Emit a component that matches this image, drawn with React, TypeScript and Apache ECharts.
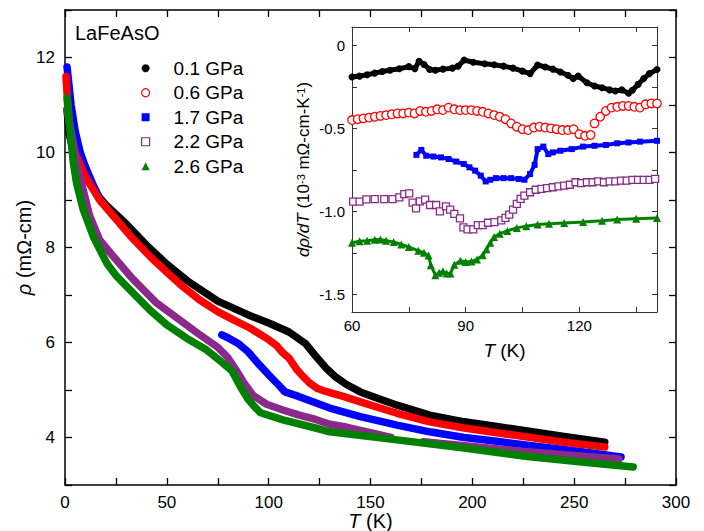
import React, { useEffect, useRef } from "react";
import * as echarts from "echarts";

// ---------- main panel: resistivity rho (mOhm-cm) vs T (K) ----------
const seriesNames = ["0.1 GPa", "0.6 GPa", "1.7 GPa", "2.2 GPa", "2.6 GPa"];
const seriesColors = ["#000000", "#ff0000", "#0000ff", "#8a2a8a", "#008000"];

const T01 = [1, 2, 4, 7, 10, 15, 20, 30, 40, 50, 60, 75, 90, 100, 110, 118, 123, 128, 133, 138, 145, 150, 163, 179, 196, 212, 227, 245, 265];
const R01 = [10.9, 10.4, 10.05, 9.75, 9.5, 9.15, 8.9, 8.5, 8.05, 7.65, 7.3, 6.87, 6.58, 6.41, 6.22, 5.98, 5.72, 5.47, 5.27, 5.12, 4.96, 4.88, 4.68, 4.47, 4.33, 4.23, 4.14, 4.02, 3.9];

const T06 = [0.5, 1, 2.5, 5, 10, 17, 25, 33, 42, 50, 58, 66, 75, 83, 91, 100, 104, 107, 110, 114, 117, 120, 124, 128, 137, 145, 163, 179, 196, 212, 227, 245, 265];
const R06 = [11.6, 11.25, 10.5, 10.0, 9.5, 9.0, 8.6, 8.2, 7.8, 7.48, 7.17, 6.9, 6.65, 6.47, 6.3, 6.06, 5.93, 5.78, 5.67, 5.42, 5.28, 5.15, 5.03, 4.97, 4.86, 4.75, 4.51, 4.33, 4.2, 4.1, 4.01, 3.9, 3.8];

const T17 = [1, 1.5, 2, 3, 5, 7.5, 10, 14, 18, 40, 77, 80, 85, 90, 95, 100, 105, 108, 115, 125, 130, 145, 163, 179, 196, 212, 227, 250, 273];
const R17 = [11.8, 11.6, 11.4, 11.0, 10.45, 10.0, 9.7, 9.3, 8.95, null, 6.16, 6.1, 5.98, 5.8, 5.55, 5.32, 5.1, 4.96, 4.86, 4.7, 4.62, 4.44, 4.26, 4.12, 4.0, 3.92, 3.84, 3.72, 3.59];

const T22 = [1, 3, 5, 7, 9, 12, 17, 22, 28, 33, 45, 58, 66, 75, 80, 84, 88, 92.5, 99, 107, 115, 123, 130, 138, 150, 160, 168, 176, 200, 227, 250, 272];
const R22 = [10.9, 10.44, 9.95, 9.55, 9.2, 8.68, 8.16, 7.9, 7.6, 7.35, 6.83, 6.42, 6.17, 5.9, 5.68, 5.42, 5.14, 4.88, 4.7, 4.58, 4.47, 4.38, 4.28, 4.22, 4.1, 4.0, null, 3.91, 3.81, 3.7, 3.62, 3.55];

const T26 = [1, 1.5, 2, 3.3, 4.1, 5.7, 9, 14, 20.5, 25.4, 33.5, 41.7, 50, 59.7, 69.6, 77.7, 82, 86, 90, 93, 96, 107, 123, 130, 163, 196, 227, 255, 279];
const R26 = [11.15, 10.9, 10.65, 10.12, 9.78, 9.35, 8.79, 8.22, 7.67, 7.39, 7.04, 6.68, 6.37, 6.09, 5.84, 5.56, 5.4, 5.08, 4.8, 4.65, 4.52, 4.37, 4.2, 4.12, 3.95, 3.78, 3.6, 3.48, 3.38];

const mainT = [T01, T06, T17, T22, T26];
const mainR = [R01, R06, R17, R22, R26];

const mainXTicks = [0, 25, 50, 75, 100, 125, 150, 175, 200, 225, 250, 275, 300];
const mainXLabels = [0, 50, 100, 150, 200, 250, 300];
const mainYTicks = [3, 4, 5, 6, 7, 8, 9, 10, 11, 12, 13];
const mainYLabels = [4, 6, 8, 10, 12];

// ---------- inset: d rho / dT (1e-3 mOhm-cm/K) vs T (K) ----------
const iT01 = [60, 62, 64, 66, 68, 70, 72.5, 75, 76.6, 77.7, 79, 80.5, 82, 84, 86.5, 88, 89.6, 92, 95, 97.5, 100, 102.5, 105, 107, 109, 111, 113, 115, 117, 118.4, 119.7, 122, 124, 126, 128, 129.5, 131.2, 133, 134, 135.5, 137, 138.5, 140.5];
const iD01 = [-0.19, -0.185, -0.177, -0.167, -0.157, -0.15, -0.141, -0.128, -0.14, -0.095, -0.115, -0.145, -0.15, -0.143, -0.137, -0.125, -0.088, -0.102, -0.11, -0.117, -0.125, -0.137, -0.155, -0.17, -0.118, -0.13, -0.143, -0.16, -0.18, -0.2, -0.185, -0.225, -0.245, -0.255, -0.268, -0.275, -0.268, -0.288, -0.27, -0.235, -0.2, -0.17, -0.145];

const iT06 = [60, 61.5, 63, 64.5, 66, 67.5, 69, 70.5, 72, 73.5, 75, 76.5, 78, 79.5, 81, 82.5, 84, 85.5, 87, 88.5, 90, 91.5, 93, 94.5, 96, 97.5, 99, 100.5, 102, 103.5, 105, 106.5, 108, 109.5, 111, 112.5, 114, 115.5, 117, 118.5, 120, 121.5, 123, 124, 125.5, 127, 128.5, 130, 131.5, 133, 134.5, 136, 137.5, 139, 140.5];
const iD06 = [-0.45, -0.445, -0.44, -0.435, -0.43, -0.425, -0.42, -0.415, -0.41, -0.41, -0.405, -0.41, -0.395, -0.4, -0.395, -0.385, -0.39, -0.375, -0.385, -0.39, -0.39, -0.39, -0.395, -0.4, -0.41, -0.42, -0.43, -0.445, -0.47, -0.49, -0.505, -0.51, -0.495, -0.49, -0.495, -0.5, -0.505, -0.51, -0.51, -0.505, -0.535, -0.545, -0.54, -0.47, -0.43, -0.395, -0.375, -0.37, -0.365, -0.365, -0.37, -0.375, -0.355, -0.35, -0.35];

const iT17 = [77, 78.3, 79.6, 81.5, 83.5, 85.5, 87.5, 89.5, 91, 92.5, 94, 95.3, 96.5, 98, 100, 102, 104, 105.5, 107, 108.2, 109, 110.5, 111.8, 113, 115, 118, 121, 124, 127, 130, 133, 136, 140.5];
const iD17 = [-0.66, -0.63, -0.665, -0.67, -0.675, -0.685, -0.7, -0.715, -0.735, -0.755, -0.785, -0.82, -0.81, -0.8, -0.8, -0.8, -0.805, -0.81, -0.775, -0.72, -0.625, -0.61, -0.655, -0.645, -0.635, -0.625, -0.61, -0.605, -0.6, -0.59, -0.585, -0.58, -0.575];

const iT22 = [60.3, 62, 63.8, 66, 68.5, 70.7, 72.5, 73.8, 75.1, 76, 76.9, 77.9, 79.3, 80.6, 82.2, 83.2, 84.8, 85.9, 87, 88.5, 89.4, 90.5, 92, 93.2, 94.5, 95.9, 97.6, 99.4, 100.5, 101.5, 102.5, 103.5, 104.5, 105.5, 107, 108.5, 110, 111.5, 113, 114.5, 116, 117.5, 119, 120.5, 122, 123.5, 125, 126.5, 128, 129.5, 131, 132.5, 134, 135.5, 137, 138.5, 140];
const iD22 = [-0.942, -0.942, -0.928, -0.926, -0.926, -0.926, -0.916, -0.896, -0.892, -0.948, -0.982, -0.94, -0.93, -0.962, -0.962, -1.0, -0.97, -0.99, -1.016, -1.043, -1.097, -1.109, -1.109, -1.083, -1.083, -1.069, -1.065, -1.055, -1.04, -1.02, -0.99, -0.955, -0.925, -0.905, -0.885, -0.87, -0.865, -0.86, -0.855, -0.85, -0.845, -0.84, -0.825, -0.83, -0.825, -0.825, -0.82, -0.825, -0.82, -0.82, -0.815, -0.815, -0.81, -0.81, -0.81, -0.81, -0.805];

const iT26 = [60, 62, 64, 66, 67.5, 69, 71, 73, 75, 77.5, 79, 80.2, 80.8, 82, 83, 84, 85, 86, 87, 88.6, 90, 91.5, 93, 94.5, 95.5, 96.5, 97.5, 99, 101, 103.5, 106, 109, 112, 116, 121, 126, 130, 135, 140.5];
const iD26 = [-1.19, -1.18, -1.178, -1.172, -1.17, -1.178, -1.185, -1.2, -1.215, -1.238, -1.25, -1.266, -1.325, -1.385, -1.37, -1.362, -1.375, -1.375, -1.322, -1.298, -1.305, -1.302, -1.29, -1.265, -1.228, -1.19, -1.155, -1.135, -1.118, -1.1, -1.09, -1.08, -1.075, -1.07, -1.064, -1.057, -1.05, -1.045, -1.04];

const insetT = [iT01, iT06, iT17, iT22, iT26];
const insetD = [iD01, iD06, iD17, iD22, iD26];

const insetXTicks = [60, 75, 90, 105, 120, 135];
const insetXLabels = [60, 90, 120];
const insetYTicks = [-1.5, -1.25, -1.0, -0.75, -0.5, -0.25, 0];
const insetYLabels = [-1.5, -1.0, -0.5, 0];

const FONT = "'Liberation Sans', Arial, Helvetica, sans-serif";

const zip = (xs: number[], ys: (number | null)[]) =>
  xs.map((x, i) => (ys[i] === null ? [x, "-"] : [x, ys[i]]));

export default function App() {
  const ref = useRef<HTMLDivElement>(null);

  useEffect(() => {
    if (!ref.current) return;
    const chart = echarts.init(ref.current, undefined, { renderer: "svg" });

    const mainLine = { show: true, onZero: false, lineStyle: { color: "#000", width: 1.5 } };
    const insetLine = { show: true, onZero: false, lineStyle: { color: "#333", width: 1 } };

    const xMainBase = {
      type: "value", gridIndex: 0, min: 0, max: 300,
      axisLine: mainLine, splitLine: { show: false },
      axisTick: { show: true, inside: true, length: 7, customValues: mainXTicks, lineStyle: { color: "#000", width: 1.3 } },
    };
    const yMainBase = {
      type: "value", gridIndex: 0, min: 3, max: 13,
      axisLine: mainLine, splitLine: { show: false },
      axisTick: { show: true, inside: true, length: 7, customValues: mainYTicks, lineStyle: { color: "#000", width: 1.3 } },
    };
    const xInBase = {
      type: "value", gridIndex: 1, min: 60, max: 140.5,
      axisLine: insetLine, splitLine: { show: false },
      axisTick: { show: true, inside: true, length: 5, customValues: insetXTicks, lineStyle: { color: "#333", width: 1 } },
    };
    const yInBase = {
      type: "value", gridIndex: 1, min: -1.607, max: 0.111,
      axisLine: insetLine, splitLine: { show: false },
      axisTick: { show: true, inside: true, length: 5, customValues: insetYTicks, lineStyle: { color: "#333", width: 1 } },
    };

    const mainSeries = seriesNames.map((name, k) => ({
      name,
      type: "line",
      xAxisIndex: 0,
      yAxisIndex: 0,
      data: zip(mainT[k], mainR[k]),
      showSymbol: false,
      connectNulls: false,
      lineStyle: { color: seriesColors[k], width: 7.5, cap: "round", join: "round" },
      itemStyle: { color: seriesColors[k] },
      z: [2, 4, 3, 5, 6][k],
    }));

    const insetSymbols = ["circle", "circle", "rect", "rect", "triangle"];
    const insetSizes = [7, 8.5, 6, 7, 8];
    const insetOpen = [false, true, false, true, false];
    const insetLineW = [5, 0, 4, 0, 3];

    const insetSeries = seriesNames.map((name, k) => ({
      name,
      type: "line",
      xAxisIndex: 2,
      yAxisIndex: 2,
      data: zip(insetT[k], insetD[k]),
      symbol: insetSymbols[k],
      symbolSize: insetSizes[k],
      showSymbol: true,
      lineStyle: { color: seriesColors[k], width: insetLineW[k] },
      itemStyle: insetOpen[k]
        ? { color: "#ffffff", borderColor: seriesColors[k], borderWidth: 1.3 }
        : { color: seriesColors[k] },
      clip: true,
      z: 10,
    }));

    const legendIcons = ["circle", "circle", "rect", "rect", "triangle"];

    chart.setOption({
      animation: false,
      backgroundColor: "#ffffff",
      textStyle: { fontFamily: FONT, color: "#000" },
      title: {
        text: "LaFeAsO",
        left: 75,
        top: 23,
        padding: 0,
        textStyle: { fontFamily: FONT, fontSize: 20, fontWeight: "normal", color: "#000" },
      },
      legend: {
        orient: "vertical",
        left: 141,
        top: 56,
        padding: 0,
        itemGap: 0,
        itemWidth: 8,
        itemHeight: 8,
        selectedMode: false,
        textStyle: { fontFamily: FONT, fontSize: 19, color: "#000", lineHeight: 24.5, padding: [0, 0, 0, 19] },
        data: seriesNames.map((name, k) => ({
          name,
          icon: legendIcons[k],
          itemStyle: insetOpen[k]
            ? { color: "#ffffff", borderColor: seriesColors[k], borderWidth: 1.2 }
            : { color: seriesColors[k], borderWidth: 0 },
        })),
      },
      grid: [
        { left: 65, right: 28, top: 10, bottom: 46, containLabel: false, outerBoundsMode: "none" },
        { left: 352, right: 47, top: 27, bottom: 219, containLabel: false, outerBoundsMode: "none", show: true, backgroundColor: "#ffffff", borderWidth: 0, z: 8 },
      ],
      xAxis: [
        {
          ...xMainBase,
          position: "bottom",
          name: "{i|T} (K)",
          nameLocation: "middle",
          nameGap: 26,
          nameMoveOverlap: false,
          nameTextStyle: { fontSize: 20, lineHeight: 20, color: "#000", fontFamily: FONT, rich: { i: { fontStyle: "italic", fontSize: 20, lineHeight: 20, fontFamily: FONT } } },
          axisLabel: { show: true, customValues: mainXLabels, fontSize: 17, color: "#000", margin: 9, fontFamily: FONT },
        },
        { ...xMainBase, position: "top", axisLabel: { show: false } },
        {
          ...xInBase,
          position: "bottom",
          name: "{i|T} (K)",
          nameLocation: "middle",
          nameGap: 29,
          nameMoveOverlap: false,
          nameTextStyle: { fontSize: 19, color: "#000", fontFamily: FONT, rich: { i: { fontStyle: "italic", fontSize: 19, fontFamily: FONT } } },
          axisLabel: { show: true, customValues: insetXLabels, fontSize: 15, color: "#000", margin: 6, fontFamily: FONT },
          z: 9,
        },
        { ...xInBase, position: "top", axisLabel: { show: false }, z: 9 },
      ],
      yAxis: [
        {
          ...yMainBase,
          position: "left",
          name: "{i|ρ} (mΩ-cm)",
          nameLocation: "middle",
          nameGap: 31,
          nameMoveOverlap: false,
          nameTextStyle: { fontSize: 20, color: "#000", fontFamily: FONT, rich: { i: { fontStyle: "italic", fontSize: 20, fontFamily: FONT } } },
          axisLabel: { show: true, customValues: mainYLabels, fontSize: 17, color: "#000", margin: 10, fontFamily: FONT },
        },
        { ...yMainBase, position: "right", axisLabel: { show: false } },
        {
          ...yInBase,
          position: "left",
          name: "{i|dρ/dT} (10{s|-3} mΩ-cm-K{s|-1})",
          nameLocation: "middle",
          nameGap: 40,
          nameMoveOverlap: false,
          nameTextStyle: {
            fontSize: 17, color: "#000", fontFamily: FONT,
            rich: {
              i: { fontStyle: "italic", fontSize: 17, fontFamily: FONT },
              s: { fontSize: 11, fontFamily: FONT, verticalAlign: "top", lineHeight: 12 },
            },
          },
          axisLabel: {
            show: true, customValues: insetYLabels, fontSize: 15, color: "#000", margin: 7, fontFamily: FONT,
            formatter: (v: number) => (v === 0 ? "0" : v.toFixed(1)),
          },
          z: 9,
        },
        { ...yInBase, position: "right", axisLabel: { show: false }, z: 9 },
      ],
      series: [...mainSeries, ...insetSeries],
    });

    return () => chart.dispose();
  }, []);

  return (
    <div
      ref={ref}
      style={{ position: "absolute", left: 0, top: 0, width: 704, height: 531 }}
    />
  );
}
